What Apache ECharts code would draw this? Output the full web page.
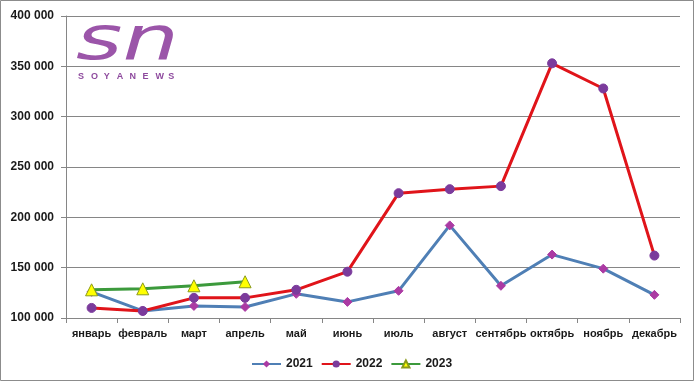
<!DOCTYPE html>
<html><head><meta charset="utf-8">
<script src="https://cdn.jsdelivr.net/npm/echarts@6/dist/echarts.min.js"></script>
<style>html,body{margin:0;padding:0;background:#fff}#c{width:695px;height:382px}</style>
</head><body><div id="c"></div>
<script>
var months = ['январь','февраль','март','апрель','май','июнь','июль','август','сентябрь','октябрь','ноябрь','декабрь'];
var s2021 = [126000,107000,112000,111000,124000,116000,127000,192000,132000,163000,149000,123000];
var s2022 = [110000,107000,120000,120000,128000,146000,224000,228000,231000,353000,328000,162000];
var s2023 = [128000,129000,132000,136000];
var seriesNames = ['2021','2022','2023'];
var logoLetters = ['S','O','Y','A','N','E','W','S'];

var chart = echarts.init(document.getElementById('c'), null, {renderer:'canvas'});
var FONT = 'Liberation Sans';
var purple = '#9b55a9';
var graphics = [
  {type:'rect', shape:{x:0.5,y:0.5,width:693,height:380}, style:{fill:'none',stroke:'#8c8c8c',lineWidth:1}, z:-1},
  {type:'text', x:76, y:13, scaleX:1.46, style:{text:'sn', font:'italic 61px "DejaVu Sans"', fill:purple, textVerticalAlign:'top'}, z:10}
];
logoLetters.forEach(function(ch,i){
  graphics.push({type:'text', x:78 + i*12.9, y:72, style:{text:ch, font:'bold 9px "Liberation Sans"', fill:'#8e4a9e', textVerticalAlign:'top'}, z:10});
});

chart.setOption({
  animation:false,
  textStyle:{fontFamily:FONT},
  grid:{left:66, right:15, top:16, bottom:64, containLabel:false},
  xAxis:{
    type:'category', data:months, boundaryGap:true,
    axisLine:{lineStyle:{color:'#868686',width:1}},
    axisTick:{show:true, length:5, inside:false, lineStyle:{color:'#868686'}},
    axisLabel:{color:'#1a1a1a', fontSize:11, fontWeight:'bold', margin:10, interval:0}
  },
  yAxis:{
    type:'value', min:100000, max:400000, interval:50000,
    axisLine:{show:true, lineStyle:{color:'#868686',width:1}},
    axisTick:{show:true, length:5, lineStyle:{color:'#868686'}},
    splitLine:{show:true, lineStyle:{color:'#868686',width:1}},
    axisLabel:{color:'#1a1a1a', fontSize:12, fontWeight:'bold', margin:12,
      formatter:function(v){return String(v).replace(/\B(?=(\d{3})+(?!\d))/g,' ');}}
  },
  legend:{
    data:seriesNames, top:353, left:246, itemWidth:29, itemHeight:9, itemGap:8,
    textStyle:{color:'#1a1a1a', fontSize:12, fontWeight:'bold'}
  },
  graphic:graphics,
  series:[
    {name:seriesNames[0], type:'line', data:s2021, symbol:'diamond', symbolSize:9,
     lineStyle:{color:'#4f7fb5', width:3}, itemStyle:{color:'#ab3aa3', borderColor:'#ab3aa3'}, color:'#4f7fb5', z:2},
    {name:seriesNames[1], type:'line', data:s2022, symbol:'circle', symbolSize:9,
     lineStyle:{color:'#e0141a', width:3}, itemStyle:{color:'#7b3b9c', borderColor:'#7b3b9c'}, color:'#e0141a', z:3},
    {name:seriesNames[2], type:'line', data:s2023, symbol:'triangle', symbolSize:12,
     lineStyle:{color:'#3c9a3c', width:3}, itemStyle:{color:'#ffff00', borderColor:'#8a9a1a', borderWidth:1}, color:'#3c9a3c', z:4}
  ]
});
</script></body></html>
